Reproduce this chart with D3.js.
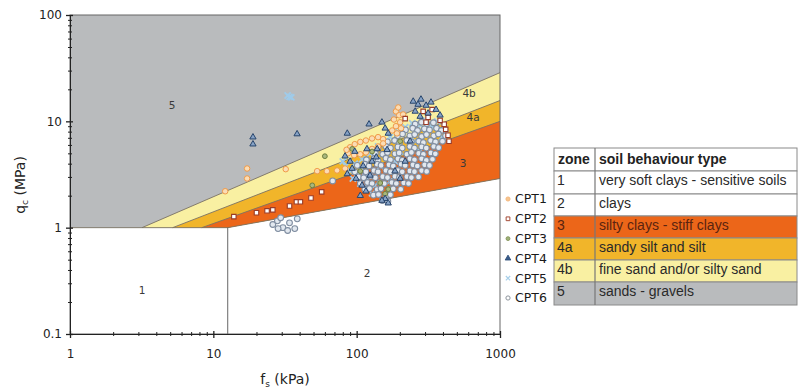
<!DOCTYPE html>
<html><head><meta charset="utf-8">
<script src="https://cdn.jsdelivr.net/npm/d3@7/dist/d3.min.js"></script>
<style>body{margin:0;background:#fff}svg{display:block}</style>
</head><body>
<svg id="c" width="799" height="392"></svg>
<script>
// ---------- DATA ----------
const xDecades = [1, 10, 100, 1000];
const xTickLabels = ["1", "10", "100", "1000"];
const yDecades = [0.1, 1, 10, 100];
const yTickLabels = ["0.1", "1", "10", "100"];

// zone boundary lines [fs (kPa), qc (MPa)]
const line5_4b = [[3.18, 1], [1000, 28.7]];
const line4b_4a = [[5.2, 1], [1000, 15.7]];
const line4a_3 = [[8.3, 1], [1000, 10]];
const line3_2 = [[12.6, 1], [1000, 2.9]];
const lineQc1 = [[1, 1], [12.6, 1]];
const line1_2 = [[12.6, 0.1], [12.6, 1]];

const zoneLabelText = ["5", "4b", "4a", "3", "2", "1"];
const zoneLabelFs = [5.15, 609, 649, 553, 118, 3.18];
const zoneLabelQc = [14.1, 18.3, 10.9, 4.05, 0.37, 0.258];

const seriesNames = ["CPT1", "CPT2", "CPT3", "CPT4", "CPT5", "CPT6"];

const cpt1 = [[17.2,3.6],[17.2,2.9],[12.1,2.2],[32,3.55],[53,3.4],[62,3.4],[73,3.45],[83,3.6],
  [90,5.7],[97,6.1],[106,6.4],[116,6.6],[128,6.9],[141,7.1],[153,6.8],
  [87,5.0],[96,4.8],[106,4.9],[116,5.1],[128,5.5],[141,5.8],[153,6.2],[85,5.4],
  [188,12.4],[198,11.4],[182,10.4],[201,9.8],[188,9.0],[177,8.2],[204,8.6],[191,7.7],[211,11.6],[195,13.5]];

const cpt2 = [[13.9,1.27],[20,1.38],[23.7,1.44],[26,1.47],[34,1.6],[38,1.75],[40.5,1.75],[48,1.9],[57,2.17],
  [291,12.4],[315,10.9],[336,12.9],[305,9.8],[418,8.4],[434,7.4],[441,6.5],[408,9.4],[218,10.6],[382,10.2]];

const cpt3 = [[60,4.7],[49,2.5],[158,2.08],[166,2.3],[106,3.4],[128,5.2],[93,5.5],[201,6.5],[146,2.63]];

const cpt4 = [[18.9,7.1],[18.9,6.1],[38.4,7.6],[86,7.7],[122,9.4],[150,9.8],[158,8.6],[166,7.7],
  [118,5.5],[139,5.5],[163,5.4],[248,15.4],[268,14.4],[281,16.1],[305,14.1],[330,15.1],[358,12.9],
  [315,11.9],[382,11.4],[277,11.1],[256,12.4],[83,4.7],[90,4.2],[97,5.2],[93,3.6],[86,3.2],[99,2.9],
  [109,2.5],[116,2.2],[106,2.0],[128,4.2],[137,4.6],[158,1.87],[166,1.7],[150,1.8],[185,3.4],
  [218,4.2],[236,6.5],[201,2.9],[124,3.1],[111,3.8]];

const cpt5 = [[34,17],[33,17.5],[35,16.8],[80,4.2],[84,3.8],[90,3.4],[97,4.0],[102,3.3],[94,2.9],
  [106,2.6],[115,3.0],[120,2.4],[128,2.1],[109,4.4],[124,5.0],[141,5.8],[158,6.5],[171,7.1],[195,8.0],
  [218,8.8],[244,9.6],[277,9.2],[305,8.4],[336,8.8],[370,8.0],[408,8.8],[418,7.7],[394,7.1],[364,10],
  [295,10.4],[146,3.8],[134,2.5],[171,2.75],[201,5.2],[256,6.5],[276,5.2],[185,4.2]];

const cpt6 = [
  [256,9.4],[283,9.8],[308,9.5],[343,9.7],
  [219,8.3],[246,8.6],[266,8.2],[297,8.5],[322,8.3],[361,8.6],[390,8.2],
  [193,7.3],[209,7.6],[235,7.3],[254,7.5],[284,7.2],[307,7.5],[345,7.3],[372,7.6],[417,7.3],
  [164,6.4],[184,6.6],[199,6.3],[224,6.6],[241,6.4],[271,6.5],[292,6.3],[328,6.6],[355,6.4],[397,6.5],
  [141,5.6],[160,5.8],[172,5.6],[194,5.75],[208,5.6],[235,5.8],[253,5.6],[284,5.75],[306,5.6],[345,5.8],[373,5.65],
  [135,5.0],[152,4.9],[164,5.1],[185,4.95],[198,5.05],[224,4.9],[241,5.1],[271,5.0],[292,4.9],[329,5.05],[354,4.95],
  [117,4.35],[132,4.45],[141,4.3],[160,4.5],[172,4.35],[194,4.45],[208,4.3],[235,4.45],[253,4.35],[284,4.45],[306,4.3],[338,4.4],
  [101,3.85],[114,3.95],[122,3.8],[139,3.95],[148,3.85],[168,3.9],[180,3.8],[204,3.95],[218,3.85],[247,3.9],[265,3.8],[298,3.9],[322,3.85],
  [97,3.35],[108,3.45],[116,3.35],[132,3.45],[141,3.35],[160,3.45],[172,3.35],[194,3.45],[208,3.35],[235,3.42],[253,3.36],[284,3.44],[308,3.38],
  [103,3.0],[112,2.95],[125,3.05],[135,2.95],[152,3.02],[164,2.96],[185,3.04],[199,2.97],[224,3.02],[241,2.96],[270,3.0],
  [106,2.6],[119,2.66],[128,2.6],[145,2.65],[156,2.6],[176,2.66],[189,2.6],[213,2.64],[230,2.6],
  [114,2.3],[123,2.33],[139,2.28],[148,2.33],[168,2.29],[180,2.32],[203,2.3],
  [131,2.02],[142,2.05],[160,2.0],[172,2.04],
  [151,1.8],[165,1.77],
  [26,1.07],[28,1.16],[29.5,1.24],[30.6,1.0],[33,0.94],[34,1.11],[37,0.98],[28.3,0.98],[38.5,1.21],[68,2.75]
];

const tableZones = ["1", "2", "3", "4a", "4b", "5"];
const tableTypes = ["very soft clays - sensitive soils", "clays", "silty clays - stiff clays",
  "sandy silt and silt", "fine sand and/or silty sand", "sands - gravels"];

// ---------- STYLE ----------
const C = {gray:"#b9bbbd", y4b:"#f9f0a2", y4a:"#f1b52a", o3:"#ec6619"};
const rowFill = ["#ffffff","#ffffff",C.o3,C.y4a,C.y4b,C.gray];
const FONT = "DejaVu Sans, Verdana, sans-serif";

const svg = d3.select("#c");
const x = d3.scaleLog().domain([1, 1000]).range([70, 500]);
const y = d3.scaleLog().domain([0.1, 100]).range([334, 15]);
const line = d3.line().x(d => x(d[0])).y(d => y(d[1]));

// zones
const gZ = svg.append("g");
gZ.append("rect").attr("x", x(1)).attr("y", y(100)).attr("width", x(1000)-x(1)).attr("height", y(0.1)-y(100)).attr("fill", "#fff");
const polyGray = [lineQc1[0], [1,100], [1000,100], line3_2[1], line3_2[0]];
const poly4b = [line5_4b[0], line5_4b[1], line3_2[1], line3_2[0]];
const poly4a = [line4b_4a[0], line4b_4a[1], line3_2[1], line3_2[0]];
const poly3 = [line4a_3[0], line4a_3[1], line3_2[1], line3_2[0]];
[[polyGray,C.gray],[poly4b,C.y4b],[poly4a,C.y4a],[poly3,C.o3]].forEach(([p,f]) => {
  gZ.append("path").attr("d", line(p) + "Z").attr("fill", f);
});
[line5_4b, line4b_4a, line4a_3, line3_2, lineQc1].forEach(l => {
  gZ.append("path").attr("d", line(l)).attr("fill","none").attr("stroke","#7a7264").attr("stroke-width",0.9);
});
gZ.append("path").attr("d", line(line1_2)).attr("fill","none").attr("stroke","#555").attr("stroke-width",0.9);

// zone labels
zoneLabelText.forEach((t,i) => {
  svg.append("text").attr("x", x(zoneLabelFs[i])).attr("y", y(zoneLabelQc[i])).attr("dy","0.36em")
    .attr("text-anchor","middle").attr("font-family",FONT).attr("font-size",10.5).attr("fill","#3a3a3a").text(t);
});

// points
const gP = svg.append("g");
function sym(data, type, size, fill, stroke, sw) {
  const s = d3.symbol().type(type).size(size);
  gP.append("g").selectAll("path").data(data).join("path")
    .attr("transform", d => `translate(${x(d[0])},${y(d[1])})`)
    .attr("d", s).attr("fill", fill).attr("stroke", stroke).attr("stroke-width", sw);
}
sym(cpt5, d3.symbolX, 26, "none", "#9fcbea", 1.8);
sym(cpt6, d3.symbolCircle, 26, "#e2e8ef", "#7f8da0", 1.1);
sym(cpt1, d3.symbolCircle, 24, "#fbdcb4", "#f09a48", 1.0);
sym(cpt3, d3.symbolCircle, 18, "#a9b77e", "#6f7f3e", 1.0);
sym(cpt2, d3.symbolSquare, 20, "#ffffff", "#9a3b26", 1.1);
sym(cpt4, d3.symbolTriangle, 17, "#86a2c6", "#27446b", 1.0);

// frame
svg.append("rect").attr("x", x(1)).attr("y", y(100)).attr("width", x(1000)-x(1)).attr("height", y(0.1)-y(100))
  .attr("fill","none").attr("stroke","#666").attr("stroke-width",1);

// axes
function minorVals(decs){ const v=[]; decs.forEach(d=>{ for(let k=1;k<10;k++){ if(d*k<=decs[decs.length-1]*1.0001) v.push(d*k);} }); return v; }
const xTicks = minorVals(xDecades), yTicks = minorVals(yDecades);
const isMajor = v => Math.abs(Math.log10(v) - Math.round(Math.log10(v))) < 1e-6;

const gx = svg.append("g").attr("transform", `translate(0,${y(0.1)})`)
  .call(d3.axisBottom(x).tickValues(xTicks).tickSize(3).tickFormat(v => isMajor(v) ? xTickLabels[xDecades.findIndex(d=>Math.abs(d-v)<1e-6)] : ""));
gx.select(".domain").attr("stroke","#222");
gx.selectAll(".tick line").attr("stroke","#222").attr("stroke-width",d=>isMajor(d)?1.3:1).attr("y1", d=>isMajor(d)?-3:-2).attr("y2", d=>isMajor(d)?4:2);
gx.selectAll(".tick text").attr("y",15).attr("font-family",FONT).attr("font-size",12).attr("fill","#222");

const gy = svg.append("g").attr("transform", `translate(${x(1)},0)`)
  .call(d3.axisLeft(y).tickValues(yTicks).tickSize(3).tickFormat(v => isMajor(v) ? yTickLabels[yDecades.findIndex(d=>Math.abs(d-v)<1e-9)] : ""));
gy.select(".domain").attr("stroke","#222");
gy.selectAll(".tick line").attr("stroke","#222").attr("stroke-width",d=>isMajor(d)?1.3:1).attr("x1", d=>isMajor(d)?-4:-2).attr("x2", d=>isMajor(d)?3:2);
gy.selectAll(".tick text").attr("x",-8).attr("font-family",FONT).attr("font-size",12).attr("fill","#222");

// axis titles
const xt = svg.append("text").attr("x",285).attr("y",384).attr("text-anchor","middle").attr("font-family",FONT).attr("font-size",14).attr("fill","#222");
xt.append("tspan").text("f");
xt.append("tspan").attr("font-size",9).attr("dy",3).text("s");
xt.append("tspan").attr("dy",-3).text(" (kPa)");
const yt = svg.append("text").attr("transform","translate(25,185) rotate(-90)").attr("text-anchor","middle").attr("font-family",FONT).attr("font-size",14).attr("fill","#222");
yt.append("tspan").text("q");
yt.append("tspan").attr("font-size",9).attr("dy",3).text("c");
yt.append("tspan").attr("dy",-3).text(" (MPa)");

// legend
const legSym = [
  [d3.symbolCircle, 14, "#f6c590", "#f3b070", 0.8],
  [d3.symbolSquare, 14, "#fff", "#a44a35", 1],
  [d3.symbolCircle, 12, "#9fb27a", "#7b8c4c", 0.8],
  [d3.symbolTriangle, 14, "#3b5d8c", "#2a4a75", 0.8],
  [d3.symbolX, 14, "none", "#a9d0ea", 1.2],
  [d3.symbolCircle, 14, "#fff", "#8d949c", 1]
];
seriesNames.forEach((n,i) => {
  const yy = 199 + i*19.8;
  const s = legSym[i];
  svg.append("path").attr("transform",`translate(508,${yy})`).attr("d", d3.symbol().type(s[0]).size(s[1]))
    .attr("fill",s[2]).attr("stroke",s[3]).attr("stroke-width",s[4]);
  svg.append("text").attr("x",515).attr("y",yy+4.4).attr("font-family",FONT).attr("font-size",12.5).attr("fill","#1a1a1a").text(n);
});

// table
const TX0 = 554, TX1 = 595, TX2 = 797;
const rowY = [148,171,194,216,238,260,282,305];
const TF = "Liberation Sans, Arial, sans-serif";
const gT = svg.append("g");
gT.append("rect").attr("x",TX0).attr("y",rowY[0]).attr("width",TX2-TX0).attr("height",rowY[1]-rowY[0]).attr("fill","#fff").attr("stroke","#8a8a8a");
gT.append("text").attr("x",558).attr("y",rowY[0]+16).attr("font-family",TF).attr("font-weight","bold").attr("font-size",14).attr("fill","#222").text("zone");
gT.append("text").attr("x",599).attr("y",rowY[0]+16).attr("font-family",TF).attr("font-weight","bold").attr("font-size",14).attr("fill","#222").text("soil behaviour type");
tableZones.forEach((z,i) => {
  const y0 = rowY[i+1], y1 = rowY[i+2];
  gT.append("rect").attr("x",TX0).attr("y",y0).attr("width",TX2-TX0).attr("height",y1-y0).attr("fill",rowFill[i]).attr("stroke","#8a8a8a");
  const col = i===2 ? "#5a2410" : "#2a2a2a";
  gT.append("text").attr("x",557).attr("y",y0+14).attr("font-family",TF).attr("font-size",14).attr("fill",col).text(z);
  gT.append("text").attr("x",599).attr("y",y0+14).attr("font-family",TF).attr("font-size",14).attr("fill",col).text(tableTypes[i]);
});
gT.append("line").attr("x1",TX1).attr("x2",TX1).attr("y1",rowY[0]).attr("y2",rowY[7]).attr("stroke","#777").attr("stroke-width",1.2);
</script></body></html>
